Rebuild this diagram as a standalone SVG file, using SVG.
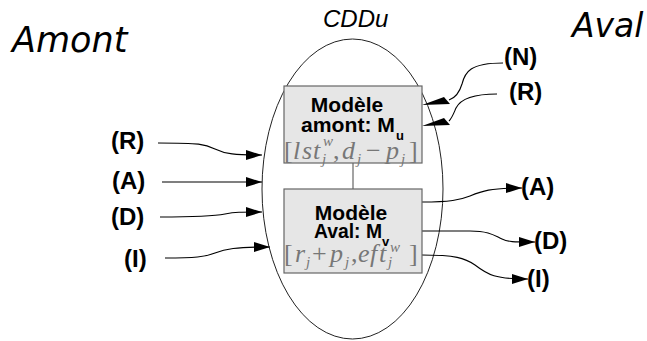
<svg xmlns="http://www.w3.org/2000/svg" width="647" height="341" viewBox="0 0 647 341">
<defs>
<style>
.lbl{font-family:"Liberation Sans",Arial,sans-serif;font-weight:bold;font-size:24px;fill:#000}
.side{font-family:"DejaVu Sans",sans-serif;font-style:italic;fill:#000}
.box{fill:#e6e6e6;stroke:#666;stroke-width:1.2}
.bt{font-family:"Liberation Sans",Arial,sans-serif;font-weight:bold;font-size:21px;fill:#000}
.sub{font-size:13px}
.f{font-family:"Liberation Serif","Times New Roman",serif;font-style:italic;font-size:26px;fill:#777}
.m{font-style:normal}
.ms{font-size:15px}
.c{fill:none;stroke:#000;stroke-width:1.1}
</style>
<marker id="ah" markerUnits="userSpaceOnUse" markerWidth="17" markerHeight="11" refX="16" refY="5.5" orient="auto">
<path d="M0,0.5 L16,5.5 L0,10.5 Z" fill="#000"/>
</marker>
</defs>
<rect width="647" height="341" fill="#fff"/>
<text class="side" x="12" y="52" font-size="35">Amont</text>
<text class="side" x="572" y="37" font-size="33">Aval</text>
<g id="cdd">
<ellipse cx="352.5" cy="189" rx="90.5" ry="150" fill="none" stroke="#222" stroke-width="1"/>
<text x="323" y="27" font-family="'Liberation Sans',Arial,sans-serif" font-style="italic" font-size="24">CDDu</text>
</g>
<g id="connectors">
<line x1="353" y1="163" x2="353" y2="189" stroke="#666" stroke-width="1.2"/>
<path class="c" d="M158,143 C200,143 205,144 215,149 C225,154 235,155 262,155" marker-end="url(#ah)"/>
<path class="c" d="M162,182 L262,182" marker-end="url(#ah)"/>
<path class="c" d="M160,217 C200,217 215,216 225,214 C235,212 240,212 262,212" marker-end="url(#ah)"/>
<path class="c" d="M165,258 C195,258 205,257 215,253 C225,249 235,247 270,247" marker-end="url(#ah)"/>
<path class="c" d="M503,63 C470,63 465,72 462,84 C459,94 455,98 449,100"/>
<polygon points="422,105 444,97 450,104" fill="#000"/>
<path class="c" d="M497,94 C470,94 460,100 456,108 C453,115 452,118 449,121"/>
<polygon points="422,126 444,118 450,125" fill="#000"/>
<path class="c" d="M422,202 C450,202 460,200 470,196 C482,191 490,188 522,188" marker-end="url(#ah)"/>
<path class="c" d="M422,231 L470,231 C490,231 495,236 502,239 C508,242 512,242 535,242" marker-end="url(#ah)"/>
<path class="c" d="M422,255 C455,255 465,258 475,265 C488,275 495,279 528,279" marker-end="url(#ah)"/>
</g>
<g id="labels-left">
<text class="lbl" x="111" y="149">(R)</text>
<text class="lbl" x="112" y="189">(A)</text>
<text class="lbl" x="111" y="225">(D)</text>
<text class="lbl" x="124" y="267">(I)</text>
</g>
<g id="labels-right">
<text class="lbl" x="504" y="65">(N)</text>
<text class="lbl" x="509" y="100">(R)</text>
<text class="lbl" x="521" y="195">(A)</text>
<text class="lbl" x="534" y="249">(D)</text>
<text class="lbl" x="527" y="287">(I)</text>
</g>
<g id="mu">
<rect class="box" x="284" y="86" width="138" height="77"/>
<text class="bt" x="347" y="112" text-anchor="middle">Modèle</text>
<text class="bt" y="132"><tspan x="301" textLength="94" lengthAdjust="spacingAndGlyphs">amont: M</tspan><tspan class="sub" x="396" y="140">u</tspan></text>
<text class="f" y="159"><tspan class="m" x="284">[</tspan><tspan x="293">l</tspan><tspan x="302">s</tspan><tspan x="313">t</tspan><tspan class="ms" x="323" y="146">w</tspan><tspan class="ms" x="322" y="164">j</tspan><tspan class="m" x="333" y="159">,</tspan><tspan x="342">d</tspan><tspan class="ms" x="357" y="164">j</tspan><tspan class="m" x="366" y="159">−</tspan><tspan x="386">p</tspan><tspan class="ms" x="401" y="164">j</tspan><tspan class="m" x="409" y="159">]</tspan></text>
</g>
<g id="mv">
<rect class="box" x="284" y="189" width="138" height="84"/>
<text class="bt" x="351" y="220" text-anchor="middle">Modèle</text>
<text class="bt" y="238"><tspan x="314" textLength="68" lengthAdjust="spacingAndGlyphs">Aval: M</tspan><tspan class="sub" x="382" y="246">v</tspan></text>
<text class="f" y="262"><tspan class="m" x="284">[</tspan><tspan x="295">r</tspan><tspan class="ms" x="306" y="267">j</tspan><tspan class="m" x="312" y="262">+</tspan><tspan x="330">p</tspan><tspan class="ms" x="345" y="267">j</tspan><tspan class="m" x="351" y="262">,</tspan><tspan x="358">e</tspan><tspan x="370">f</tspan><tspan x="379">t</tspan><tspan class="ms" x="390" y="252">w</tspan><tspan class="ms" x="388" y="267">j</tspan><tspan class="m" x="409" y="262">]</tspan></text>
</g>
</svg>
